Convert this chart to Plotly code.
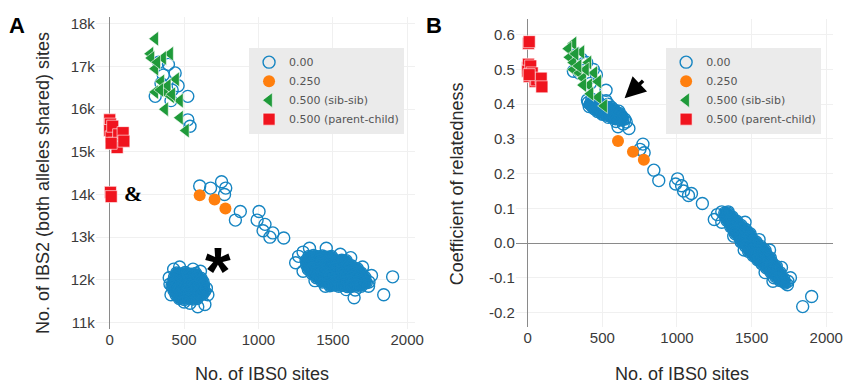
import plotly.graph_objects as go

# ---------------- data ----------------
# parent-child pairs (red squares)
pc_ibs0 = [0, 5, 0, 10, 20, 30, 50, 60, 90, 95, 10, 5, 10]
pc_ibs2 = [15750, 15650, 15500, 15350, 15600, 15200, 15100, 15400, 15450, 15250, 15200, 14050, 13950]
pc_rel = [0.505, 0.515, 0.495, 0.48, 0.51, 0.49, 0.465, 0.47, 0.475, 0.45, 0.485, 0.575, 0.58]

# sib-sib pairs (green triangles)
sib_ibs0 = [306, 273, 406, 280, 359, 306, 446, 346, 306, 372, 412, 472, 372, 472, 512, 320, 390, 340, 420]
sib_ibs2 = [17650, 17300, 17300, 17200, 17200, 16950, 16700, 16650, 16400, 16400, 16300, 16200, 16000,
            15800, 15500, 17100, 16550, 16450, 16350]
sib_rel = [0.575, 0.56, 0.52, 0.535, 0.55, 0.50, 0.49, 0.49, 0.52, 0.475, 0.455, 0.465, 0.455,
           0.42, 0.395, 0.545, 0.50, 0.51, 0.43]

# expected 0.250 (orange)
q_ibs0 = [605, 705, 778]
q_ibs2 = [13980, 13880, 13670]
q_rel = [0.294, 0.263, 0.24]

# expected 0.00 (blue open circles) - several groups
up_ibs0 = [330, 395, 440, 345, 460, 306, 412, 525, 525, 540, 360, 420]
up_ibs2 = [17100, 17050, 16850, 16600, 16550, 16300, 16200, 16300, 15750, 15600, 16800, 16450]
up_rel = [0.545, 0.52, 0.50, 0.49, 0.485, 0.495, 0.475, 0.44, 0.41, 0.40, 0.53, 0.46]

chain_ibs0 = [605, 678, 752, 772, 780, 878, 845, 1004, 991, 1044, 1031, 1097, 1077, 1170]
chain_ibs2 = [14200, 14150, 14300, 14000, 14150, 13600, 13400, 13600, 13400, 13300, 13150, 13100, 13000, 12980]
chain_rel = [0.335, 0.33, 0.27, 0.285, 0.26, 0.18, 0.21, 0.185, 0.17, 0.15, 0.165, 0.143, 0.137, 0.114]

# "*" cluster: dense core and scattered edge
star_core_ibs0 = [450, 482, 508, 547, 578,
                  436, 463, 497, 524, 556, 588, 613,
                  424, 457, 484, 516, 543, 577, 603, 628,
                  419, 452, 478, 511, 538, 572, 598, 631,
                  432, 458, 492, 519, 552, 578, 611, 638,
                  446, 473, 507, 533, 566, 594, 624,
                  468, 502, 529, 561, 588]
star_core_ibs2 = [12160, 12140, 12170, 12130, 12150,
                  12060, 12040, 12070, 12030, 12050, 12060, 12040,
                  11950, 11970, 11930, 11960, 11940, 11960, 11930, 11950,
                  11850, 11830, 11860, 11840, 11870, 11850, 11830, 11860,
                  11750, 11770, 11740, 11760, 11740, 11770, 11750, 11730,
                  11650, 11670, 11640, 11660, 11650, 11630, 11660,
                  11560, 11540, 11570, 11550, 11560]
star_core_rel = [0.407, 0.401, 0.396, 0.389, 0.384,
                 0.405, 0.400, 0.394, 0.389, 0.384, 0.378, 0.373,
                 0.403, 0.397, 0.393, 0.387, 0.382, 0.376, 0.371, 0.367,
                 0.400, 0.394, 0.390, 0.384, 0.379, 0.373, 0.368, 0.362,
                 0.394, 0.389, 0.383, 0.378, 0.372, 0.368, 0.362, 0.357,
                 0.387, 0.383, 0.376, 0.372, 0.366, 0.361, 0.355,
                 0.379, 0.373, 0.368, 0.363, 0.358]
star_edge_ibs0 = [405, 400, 430, 470, 560, 610, 650, 660, 640, 592, 412, 540, 500]
star_edge_ibs2 = [11900, 12050, 12250, 12300, 12250, 12200, 11800, 11650, 11420, 11370, 11650, 11450, 11480]
star_edge_rel = [0.405, 0.412, 0.414, 0.409, 0.391, 0.380, 0.357, 0.349, 0.343, 0.350, 0.393, 0.362, 0.371]

# unrelated bulk: dense core and scattered edge
big_core_ibs0 = [1340, 1370, 1400, 1430, 1460, 1490,
                 1320, 1350, 1380, 1410, 1440, 1470, 1500, 1530, 1560, 1590,
                 1325, 1355, 1385, 1415, 1445, 1475, 1505, 1535, 1565, 1595, 1625,
                 1335, 1365, 1395, 1425, 1455, 1485, 1515, 1545, 1575, 1605, 1635, 1665,
                 1360, 1390, 1420, 1450, 1480, 1510, 1540, 1570, 1600, 1630, 1660, 1690,
                 1390, 1420, 1450, 1480, 1510, 1540, 1570, 1600, 1630, 1660, 1690, 1715,
                 1430, 1460, 1490, 1520, 1550, 1580, 1610, 1640, 1670, 1700, 1725,
                 1480, 1510, 1540, 1570, 1600, 1630, 1660, 1690]
big_core_ibs2 = [12550, 12570, 12540, 12560, 12530, 12550,
                 12450, 12470, 12440, 12460, 12430, 12450, 12470, 12440, 12460, 12450,
                 12350, 12370, 12340, 12360, 12330, 12350, 12370, 12340, 12360, 12350, 12330,
                 12250, 12270, 12240, 12260, 12230, 12250, 12270, 12240, 12260, 12250, 12230, 12260,
                 12150, 12170, 12140, 12160, 12130, 12150, 12170, 12140, 12160, 12150, 12130, 12160,
                 12050, 12070, 12040, 12060, 12030, 12050, 12070, 12040, 12060, 12050, 12030, 12060,
                 11950, 11970, 11940, 11960, 11930, 11950, 11970, 11940, 11960, 11950, 11930,
                 11860, 11880, 11850, 11870, 11840, 11860, 11880, 11850]
big_core_rel = [0.087, 0.075, 0.063, 0.051, 0.039, 0.027,
                0.087, 0.075, 0.063, 0.051, 0.039, 0.027, 0.015, 0.003, -0.009, -0.021,
                0.077, 0.065, 0.053, 0.041, 0.029, 0.017, 0.005, -0.007, -0.019, -0.031, -0.043,
                0.065, 0.053, 0.041, 0.029, 0.017, 0.005, -0.007, -0.019, -0.031, -0.043, -0.055, -0.067,
                0.047, 0.035, 0.023, 0.011, -0.001, -0.013, -0.025, -0.037, -0.049, -0.061, -0.073, -0.085,
                0.027, 0.015, 0.003, -0.009, -0.021, -0.033, -0.045, -0.057, -0.069, -0.081, -0.093, -0.103,
                0.003, -0.009, -0.021, -0.033, -0.045, -0.057, -0.069, -0.081, -0.093, -0.105, -0.115,
                -0.024, -0.036, -0.048, -0.060, -0.072, -0.084, -0.096, -0.108]
big_edge_ibs0 = [1250, 1270, 1300, 1343, 1456, 1550, 1620, 1700, 1743, 1760, 1740, 1650, 1643,
                 1590, 1450, 1380, 1300, 1842, 1902]
big_edge_ibs2 = [12400, 12550, 12650, 12740, 12740, 12600, 12520, 12300, 11950, 12100, 11850, 11760, 11580,
                 11770, 11850, 11980, 12200, 11650, 12070]
big_edge_rel = [0.068, 0.082, 0.09, 0.09, 0.06, 0.01, -0.02, -0.07, -0.11, -0.10, -0.12, -0.10, -0.11,
                -0.085, -0.02, 0.02, 0.06, -0.183, -0.154]

legend_names = ["0.00", "0.250", "0.500 (sib-sib)", "0.500 (parent-child)"]
x_ticks = [0, 500, 1000, 1500, 2000]
a_y_ticks = [11000, 12000, 13000, 14000, 15000, 16000, 17000, 18000]
a_y_labels = ["11k", "12k", "13k", "14k", "15k", "16k", "17k", "18k"]
b_y_ticks = [-0.2, -0.1, 0.0, 0.1, 0.2, 0.3, 0.4, 0.5, 0.6]
b_y_labels = ["-0.2", "-0.1", "0.0", "0.1", "0.2", "0.3", "0.4", "0.5", "0.6"]

# ---------------- styles ----------------
BLUE = "#1685c2"
ORANGE = "#ff7f0e"
GREEN = "#1f9a3a"
RED = "#f0141e"

blue_x = up_ibs0 + chain_ibs0 + star_core_ibs0 + star_edge_ibs0 + big_core_ibs0 + big_edge_ibs0
blue_a = up_ibs2 + chain_ibs2 + star_core_ibs2 + star_edge_ibs2 + big_core_ibs2 + big_edge_ibs2
blue_b = up_rel + chain_rel + star_core_rel + star_edge_rel + big_core_rel + big_edge_rel
core_x = star_core_ibs0 + big_core_ibs0
core_a = star_core_ibs2 + big_core_ibs2
core_b = star_core_rel + big_core_rel

fig = go.Figure()

panels = [("x", "y", "legend", core_a, blue_a, q_ibs2, sib_ibs2, pc_ibs2),
          ("x2", "y2", "legend2", core_b, blue_b, q_rel, sib_rel, pc_rel)]

for xr, yr, lg, cy, by, qy, sy, py in panels:
    # dense overlap of the crowded clusters
    fig.add_trace(go.Scatter(x=core_x, y=cy, mode="markers", showlegend=False,
                             xaxis=xr, yaxis=yr, hoverinfo="skip",
                             marker=dict(symbol="circle", size=11, color=BLUE,
                                         line=dict(width=0))))
    fig.add_trace(go.Scatter(x=blue_x, y=by, mode="markers", name=legend_names[0],
                             xaxis=xr, yaxis=yr, legend=lg,
                             marker=dict(symbol="circle-open", size=12, color=BLUE,
                                         line=dict(width=1.4))))
    fig.add_trace(go.Scatter(x=q_ibs0, y=qy, mode="markers", name=legend_names[1],
                             xaxis=xr, yaxis=yr, legend=lg,
                             marker=dict(symbol="circle", size=12, color=ORANGE,
                                         line=dict(width=0))))
    fig.add_trace(go.Scatter(x=sib_ibs0, y=sy, mode="markers", name=legend_names[2],
                             xaxis=xr, yaxis=yr, legend=lg,
                             marker=dict(symbol="triangle-left", size=13, color=GREEN,
                                         line=dict(width=0.6, color="white"))))
    fig.add_trace(go.Scatter(x=pc_ibs0, y=py, mode="markers", name=legend_names[3],
                             xaxis=xr, yaxis=yr, legend=lg,
                             marker=dict(symbol="square", size=12, color=RED,
                                         line=dict(width=0.6, color="white"))))

W, H = 856, 387
tickfont = dict(family="Liberation Sans, Arial, sans-serif", size=15, color="#3a3a3a")
titlefont = dict(family="Liberation Sans, Arial, sans-serif", size=18, color="#2a2a2a")
legfont = dict(family="DejaVu Sans, Verdana, sans-serif", size=11, color="#555555")
grid = "#f0f0f0"
zl = "#8a8a8a"


def px_x(p):
    return p / W


def px_y(p):
    return 1 - p / H


common_x = dict(tickmode="array", tickvals=x_ticks, showgrid=True, gridcolor=grid,
                zeroline=True, zerolinecolor=zl, zerolinewidth=1, showline=False,
                ticks="", tickfont=tickfont, fixedrange=True)

fig.update_layout(
    width=W, height=H,
    margin=dict(l=0, r=0, t=0, b=0),
    paper_bgcolor="white", plot_bgcolor="white",
    xaxis=dict(domain=[px_x(97), px_x(420)], range=[-93, 2053], anchor="y", **common_x),
    yaxis=dict(domain=[px_y(330), px_y(15)], range=[10837, 18163], anchor="x",
               tickmode="array", tickvals=a_y_ticks, ticktext=a_y_labels,
               showgrid=True, gridcolor=grid, zeroline=False, ticks="", tickfont=tickfont,
               fixedrange=True),
    xaxis2=dict(domain=[px_x(522), px_x(843)], range=[-79, 2046], anchor="y2", **common_x),
    yaxis2=dict(domain=[px_y(328), px_y(17)], range=[-0.243, 0.6457], anchor="x2",
                tickmode="array", tickvals=b_y_ticks, ticktext=b_y_labels,
                showgrid=True, gridcolor=grid, zeroline=True, zerolinecolor=zl,
                zerolinewidth=1, ticks="", tickfont=tickfont, fixedrange=True),
    legend=dict(x=px_x(252), y=px_y(46), xanchor="left", yanchor="top",
                bgcolor="#ebebeb", font=legfont, tracegroupgap=0),
    legend2=dict(x=px_x(674), y=px_y(46), xanchor="left", yanchor="top",
                 bgcolor="#ebebeb", font=legfont, tracegroupgap=0),
    showlegend=True,
)

ann = []
ann.append(dict(text="No. of IBS0 sites", x=px_x(265), y=px_y(375), xref="paper", yref="paper",
                showarrow=False, font=titlefont, xanchor="center", yanchor="middle"))
ann.append(dict(text="No. of IBS0 sites", x=px_x(690), y=px_y(375), xref="paper", yref="paper",
                showarrow=False, font=titlefont, xanchor="center", yanchor="middle"))
ann.append(dict(text="No. of IBS2 (both alleles shared) sites", x=px_x(43), y=px_y(182),
                xref="paper", yref="paper", showarrow=False, font=titlefont, textangle=-90,
                xanchor="center", yanchor="middle"))
ann.append(dict(text="Coefficient of relatedness", x=px_x(462), y=px_y(183),
                xref="paper", yref="paper", showarrow=False, font=titlefont, textangle=-90,
                xanchor="center", yanchor="middle"))
ann.append(dict(text="<b>A</b>", x=px_x(17), y=px_y(24), xref="paper", yref="paper",
                showarrow=False, font=dict(family="Liberation Sans, Arial", size=22, color="black"),
                xanchor="center", yanchor="middle"))
ann.append(dict(text="<b>B</b>", x=px_x(439), y=px_y(24), xref="paper", yref="paper",
                showarrow=False, font=dict(family="Liberation Sans, Arial", size=22, color="black"),
                xanchor="center", yanchor="middle"))
ann.append(dict(text="<b>&amp;</b>", x=156, y=14034, xref="x", yref="y", showarrow=False,
                font=dict(family="Liberation Serif, Times New Roman, serif", size=22, color="black"),
                xanchor="center", yanchor="middle"))
ann.append(dict(text="<b>*</b>", x=725, y=12200, xref="x", yref="y", showarrow=False,
                font=dict(family="Liberation Sans, Arial", size=66, color="black"),
                xanchor="center", yanchor="middle"))
ann.append(dict(text="", x=649, y=0.417, xref="x2", yref="y2", showarrow=True,
                ax=20, ay=-19, arrowhead=2, arrowsize=1.2, arrowwidth=3.5, arrowcolor="black"))
fig.update_layout(annotations=ann)

fig.write_html("out.html", post_script="document.body.style.margin='0';",
               config={"displayModeBar": False})
